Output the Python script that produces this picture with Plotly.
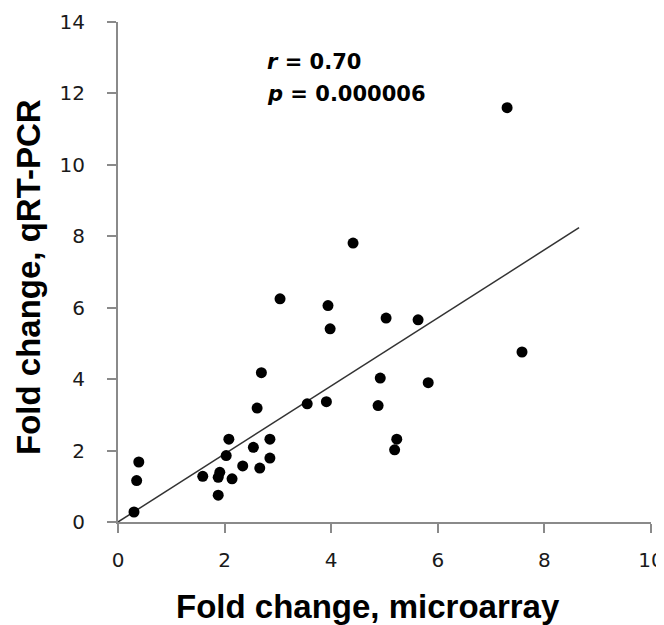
import plotly.graph_objects as go

# Data
microarray_fc = [7.30, 4.41, 3.04, 3.94, 3.98, 5.03, 5.63, 7.58, 2.69, 4.92,
                 5.82, 2.61, 3.55, 3.91, 4.88, 5.23, 5.19, 2.08, 2.85, 2.54,
                 0.39, 0.35, 0.30, 2.03, 2.85, 2.34, 2.66, 1.59, 1.88, 1.91,
                 2.14, 1.88]
qrtpcr_fc = [11.60, 7.81, 6.25, 6.06, 5.41, 5.71, 5.66, 4.76, 4.18, 4.03,
             3.90, 3.19, 3.31, 3.37, 3.26, 2.32, 2.02, 2.32, 2.32, 2.09,
             1.68, 1.16, 0.28, 1.86, 1.79, 1.57, 1.51, 1.28, 1.25, 1.39,
             1.21, 0.75]
trend_x = [0.0, 8.65]
trend_y = [0.0, 8.24]
x_ticks = [0, 2, 4, 6, 8, 10]
y_ticks = [0, 2, 4, 6, 8, 10, 12, 14]
x_title = "Fold change, microarray"
y_title = "Fold change, qRT-PCR"
stats_text = ["<b><i>r</i> = 0.70</b>", "<b><i>p</i> = 0.000006</b>"]
stats_x = [2.75, 2.75]
stats_y = [12.89, 11.99]

fig = go.Figure()
fig.add_trace(go.Scatter(x=trend_x, y=trend_y, mode="lines",
                         line=dict(color="#333333", width=1.5),
                         showlegend=False, hoverinfo="skip"))
fig.add_trace(go.Scatter(x=microarray_fc, y=qrtpcr_fc, mode="markers",
                         marker=dict(color="black", size=11),
                         showlegend=False))

for t, xx, yy in zip(stats_text, stats_x, stats_y):
    fig.add_annotation(x=xx, y=yy, text=t, showarrow=False, xanchor="left",
                       yanchor="middle",
                       font=dict(family="DejaVu Sans", size=21, color="black"))

title_font = dict(family="Liberation Sans, Arial", size=33, color="black")

# axis titles (placed as annotations to match the reference offsets)
fig.add_annotation(xref="paper", yref="paper", x=0.5, y=0, xanchor="center",
                   yanchor="middle", xshift=-17, yshift=-84, showarrow=False,
                   text="<b>" + x_title + "</b>", font=title_font)
fig.add_annotation(xref="paper", yref="paper", x=0, y=0.5, xanchor="center",
                   yanchor="middle", xshift=-90, yshift=-5, showarrow=False,
                   textangle=-90, text="<b>" + y_title + "</b>", font=title_font)

axis_common = dict(showline=True, linecolor="#8a8a8a", linewidth=2,
                   ticks="outside", ticklen=9, tickcolor="#8a8a8a", tickwidth=2,
                   showgrid=False, zeroline=False, automargin=False,
                   tickfont=dict(family="DejaVu Sans", size=20, color="#1a1a1a"))

fig.update_xaxes(range=[0, 10], tickvals=x_ticks, ticktext=[str(v) for v in x_ticks],
                 ticklabelstandoff=10, **axis_common)
fig.update_yaxes(range=[0, 14], tickvals=y_ticks, ticktext=[str(v) for v in y_ticks],
                 ticklabelstandoff=18, **axis_common)

fig.update_layout(width=664, height=625, plot_bgcolor="white", paper_bgcolor="white",
                  margin=dict(l=110, r=21, t=14, b=111))
fig.write_html("out.html")
